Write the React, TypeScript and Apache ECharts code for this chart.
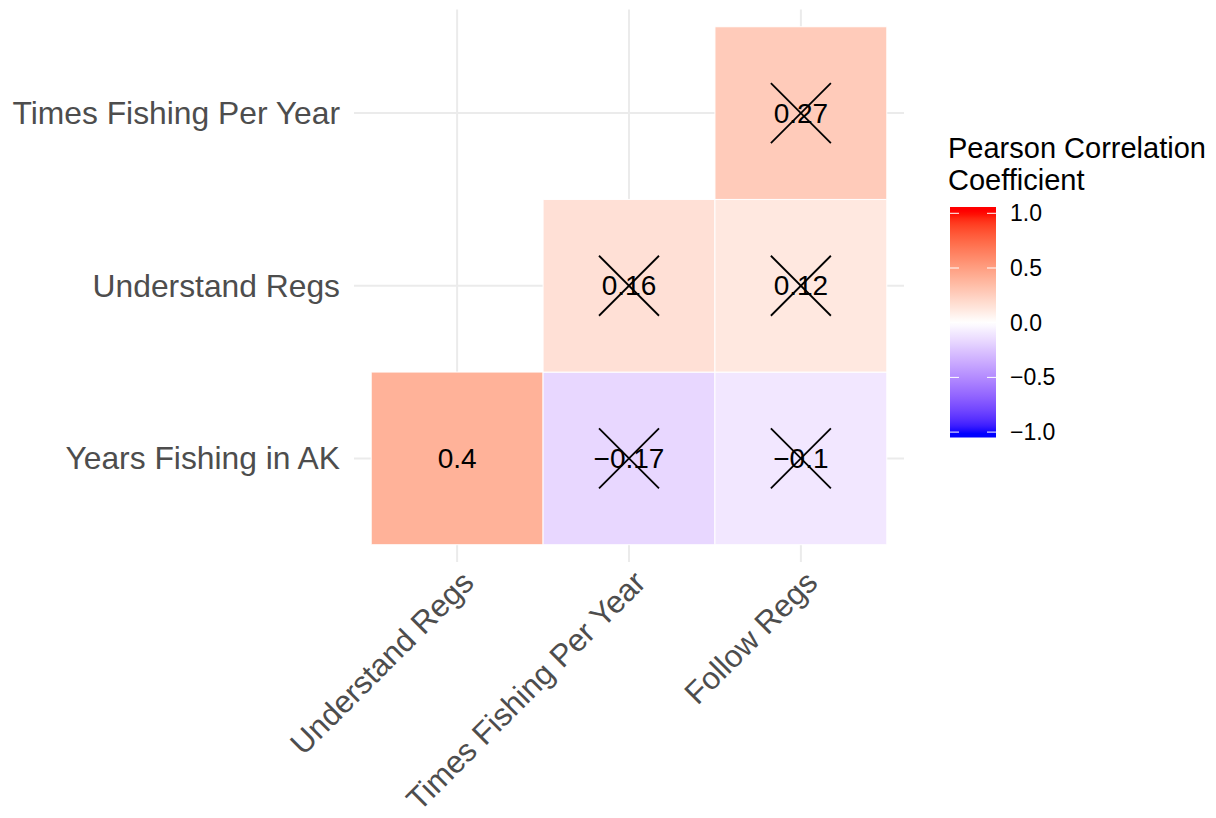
import React, { useEffect, useRef } from "react";
import * as echarts from "echarts";

const xCategories = ["Understand Regs", "Times Fishing Per Year", "Follow Regs"];
const yCategories = ["Years Fishing in AK", "Understand Regs", "Times Fishing Per Year"];
const cellX = [0, 1, 2, 1, 2, 2];
const cellY = [0, 0, 0, 1, 1, 2];
const corrValues = [0.4, -0.17, -0.1, 0.16, 0.12, 0.27];
const significant = [true, false, false, false, false, false];
const legendTicks = [-1, -0.5, 0, 0.5, 1];
const legendTickLabels = ["\u22121.0", "\u22120.5", "0.0", "0.5", "1.0"];
const legendTitle = "Pearson Correlation\nCoefficient";

const FONT = "Liberation Sans, Arial, Helvetica, sans-serif";

function toLin(c: number) {
  c /= 255;
  return c <= 0.04045 ? c / 12.92 : Math.pow((c + 0.055) / 1.055, 2.4);
}
function fromLin(c: number) {
  const v = c <= 0.0031308 ? 12.92 * c : 1.055 * Math.pow(c, 1 / 2.4) - 0.055;
  return Math.round(Math.max(0, Math.min(1, v)) * 255);
}
function rgbToLab(rgb: number[]) {
  const [R, G, B] = rgb.map(toLin);
  const X = (0.4124 * R + 0.3576 * G + 0.1805 * B) / 0.95047;
  const Y = 0.2126 * R + 0.7152 * G + 0.0722 * B;
  const Z = (0.0193 * R + 0.1192 * G + 0.9505 * B) / 1.08883;
  const f = (t: number) => (t > 0.008856 ? Math.cbrt(t) : 7.787 * t + 16 / 116);
  const fx = f(X), fy = f(Y), fz = f(Z);
  return [116 * fy - 16, 500 * (fx - fy), 200 * (fy - fz)];
}
function labToRgb(lab: number[]) {
  const [L, a, b] = lab;
  const fy = (L + 16) / 116;
  const fx = fy + a / 500;
  const fz = fy - b / 200;
  const inv = (t: number) => (t * t * t > 0.008856 ? t * t * t : (t - 16 / 116) / 7.787);
  const X = inv(fx) * 0.95047, Y = inv(fy), Z = inv(fz) * 1.08883;
  const R = 3.2406 * X - 1.5372 * Y - 0.4986 * Z;
  const G = -0.9689 * X + 1.8758 * Y + 0.0415 * Z;
  const B = 0.0557 * X - 0.204 * Y + 1.057 * Z;
  return [fromLin(R), fromLin(G), fromLin(B)];
}
const LAB_WHITE = rgbToLab([255, 255, 255]);
const LAB_RED = rgbToLab([255, 0, 0]);
const LAB_BLUE = rgbToLab([0, 0, 255]);
function fillColor(v: number) {
  const t = Math.max(-1, Math.min(1, v));
  const end = t >= 0 ? LAB_RED : LAB_BLUE;
  const k = Math.abs(t);
  const lab = LAB_WHITE.map((w, i) => w + (end[i] - w) * k);
  const [r, g, b] = labToRgb(lab);
  return `rgb(${r},${g},${b})`;
}
const fmt = (v: number) => String(v).replace("-", "\u2212");

export default function App() {
  const ref = useRef<HTMLDivElement>(null);
  useEffect(() => {
    if (!ref.current) return;
    const chart = echarts.init(ref.current, null, { renderer: "svg" });

    const barX = 950, barW = 46, barTop = 207, barBottom = 437.5;
    const zeroY = 322.7, perUnit = 109.4;
    const vTop = (zeroY - barTop) / perUnit;
    const vBot = (zeroY - barBottom) / perUnit;
    const stops = [] as { offset: number; color: string }[];
    for (let i = 0; i <= 60; i++) {
      const f = i / 60;
      stops.push({ offset: f, color: fillColor(vTop - f * (vTop - vBot)) });
    }
    const legendEls: any[] = [
      {
        type: "text",
        left: 948,
        top: 132,
        style: { text: legendTitle, fontSize: 29, lineHeight: 32, fill: "#000", fontFamily: FONT },
      },
      {
        type: "rect",
        shape: { x: barX, y: barTop, width: barW, height: barBottom - barTop },
        style: { fill: new echarts.graphic.LinearGradient(0, 0, 0, 1, stops) },
      },
    ];
    legendTicks.forEach((t, i) => {
      const y = zeroY - t * perUnit;
      legendEls.push(
        { type: "line", shape: { x1: barX, y1: y, x2: barX + 9, y2: y }, style: { stroke: "#fff", lineWidth: 1 } },
        { type: "line", shape: { x1: barX + barW - 9, y1: y, x2: barX + barW, y2: y }, style: { stroke: "#fff", lineWidth: 1 } },
        {
          type: "text",
          x: 1010,
          y,
          style: { text: legendTickLabels[i], fontSize: 23, fill: "#000", fontFamily: FONT, verticalAlign: "middle", align: "left" },
        }
      );
    });

    const gridIdx = [0, 1, 2];
    const option: any = {
      animation: false,
      backgroundColor: "#fff",
      grid: { left: 354, right: 312, top: 9.5, bottom: 256, containLabel: false, outerBoundsMode: "none" },
      xAxis: {
        type: "value",
        min: -0.6,
        max: 2.6,
        splitLine: { show: false },
        axisLine: { show: false },
        axisTick: { show: false },
        axisLabel: {
          customValues: gridIdx,
          formatter: (v: number) => xCategories[Math.round(v)] ?? "",
          rotate: 45,
          verticalAlign: "top",
          margin: 4,
          fontSize: 31.3,
          color: "#4D4D4D",
          fontFamily: FONT,
        },
      },
      yAxis: {
        type: "value",
        min: -0.6,
        max: 2.6,
        splitLine: { show: false },
        axisLine: { show: false },
        axisTick: { show: false },
        axisLabel: {
          customValues: gridIdx,
          formatter: (v: number) => yCategories[Math.round(v)] ?? "",
          margin: 14,
          fontSize: 31.8,
          color: "#4D4D4D",
          fontFamily: FONT,
        },
      },
      series: [
        {
          type: "custom",
          silent: true,
          z: 1,
          data: gridIdx.map((i) => [i, i]),
          encode: { x: 0, y: 1 },
          renderItem: (params: any, api: any) => {
            const i = api.value(0);
            const a = api.coord([i, -0.6]);
            const b = api.coord([i, 2.6]);
            const c = api.coord([-0.6, i]);
            const d = api.coord([2.6, i]);
            return {
              type: "group",
              children: [
                { type: "line", shape: { x1: a[0], y1: a[1], x2: b[0], y2: b[1] }, style: { stroke: "#EBEBEB", lineWidth: 2 } },
                { type: "line", shape: { x1: c[0], y1: c[1], x2: d[0], y2: d[1] }, style: { stroke: "#EBEBEB", lineWidth: 2 } },
              ],
            };
          },
        },
        {
          type: "custom",
          silent: true,
          z: 2,
          data: cellX.map((x, i) => [x, cellY[i], corrValues[i], significant[i] ? 1 : 0]),
          encode: { x: 0, y: 1 },
          renderItem: (params: any, api: any) => {
            const x = api.value(0), y = api.value(1), v = api.value(2), sig = api.value(3);
            const p0 = api.coord([x - 0.5, y + 0.5]);
            const p1 = api.coord([x + 0.5, y - 0.5]);
            const c = api.coord([x, y]);
            const children: any[] = [
              {
                type: "rect",
                shape: { x: p0[0], y: p0[1], width: p1[0] - p0[0], height: p1[1] - p0[1] },
                style: { fill: fillColor(v), stroke: "#fff", lineWidth: 1 },
              },
              {
                type: "text",
                style: {
                  text: fmt(corrValues[params.dataIndex]),
                  x: c[0],
                  y: c[1],
                  align: "center",
                  verticalAlign: "middle",
                  fontSize: 28,
                  fill: "#000",
                  fontFamily: FONT,
                },
                z2: 5,
              },
            ];
            if (!sig) {
              const r = 30;
              children.push(
                { type: "line", shape: { x1: c[0] - r, y1: c[1] - r, x2: c[0] + r, y2: c[1] + r }, style: { stroke: "#000", lineWidth: 1.8 }, z2: 6 },
                { type: "line", shape: { x1: c[0] - r, y1: c[1] + r, x2: c[0] + r, y2: c[1] - r }, style: { stroke: "#000", lineWidth: 1.8 }, z2: 6 }
              );
            }
            return { type: "group", children };
          },
        },
      ],
      graphic: legendEls,
    };
    chart.setOption(option);
    return () => chart.dispose();
  }, []);
  return <div ref={ref} style={{ position: "absolute", left: 0, top: 0, width: 1216, height: 818 }} />;
}
